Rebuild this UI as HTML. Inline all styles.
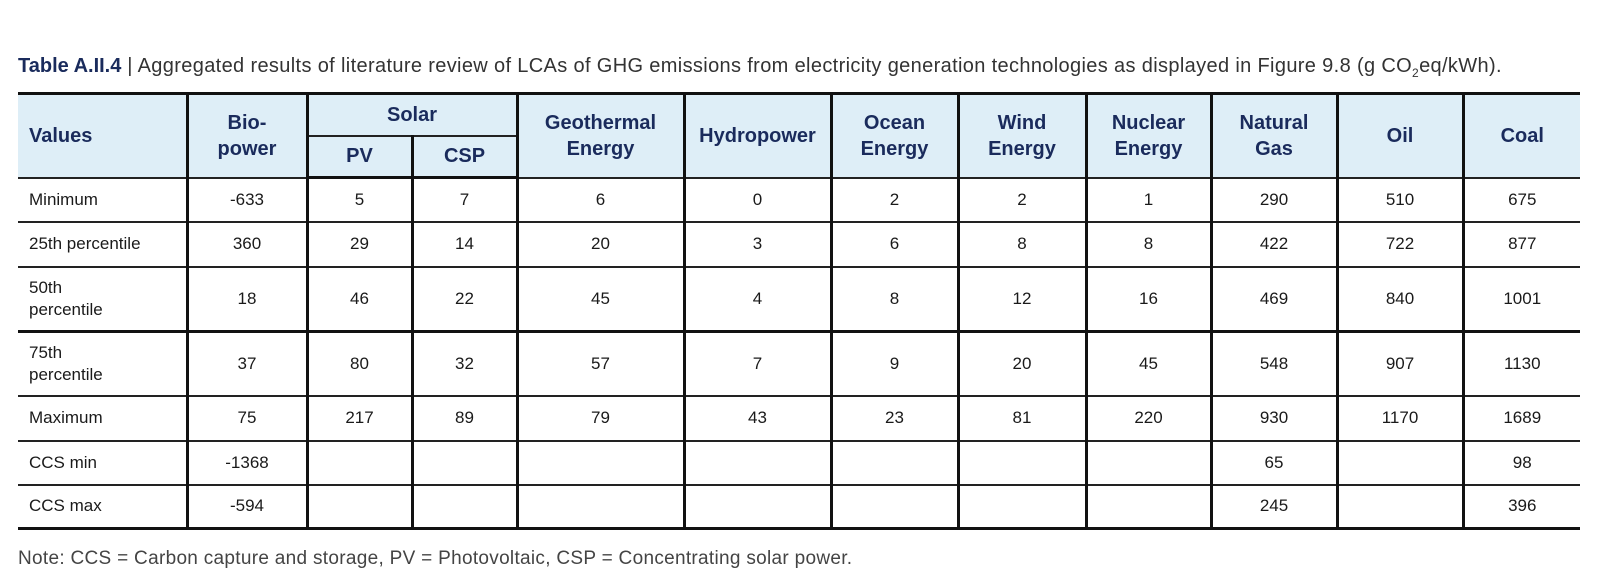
<!DOCTYPE html>
<html><head><meta charset="utf-8"><style>
html,body{margin:0;padding:0;background:#fff;width:1600px;height:582px;overflow:hidden;position:relative;font-family:"Liberation Sans",sans-serif;}
.title{position:absolute;left:18px;top:55px;font-size:20px;color:#333;white-space:nowrap;letter-spacing:0.35px}
.title b{color:#1a2b5c;letter-spacing:0}
table{position:absolute;left:18px;top:92px;border-collapse:collapse;table-layout:fixed;width:1562px;font-size:17px;color:#1a1a1a}
td,th{border-left:3px solid #111;border-right:3px solid #111;border-top:2px solid #222;border-bottom:2px solid #222;text-align:center;padding:0;line-height:22px}
th{background:#deeef7;color:#1a2b5c;font-weight:bold;font-size:20px;line-height:26px}
tr.h1 th{border-top:3px solid #111}
tr.h2 th{border-bottom:3px solid #111}
td.l,th.l{text-align:left;padding-left:11px}
table tr:first-child th:first-child,table td:first-child{border-left:none}
table tr:first-child th:last-child,table td:last-child{border-right:none}
tr.last td{border-bottom:3px solid #111}
tr.thick td{border-top:3px solid #111}
.note{position:absolute;left:18px;top:548px;font-size:19px;color:#444;letter-spacing:0.3px}
</style></head><body>
<div class="title"><b>Table A.II.4</b> | Aggregated results of literature review of LCAs of GHG emissions from electricity generation technologies as displayed in Figure 9.8 (g CO<sub style="font-size:12px">2</sub>eq/kWh).</div>
<table>
<colgroup><col style="width:169px"><col style="width:120px"><col style="width:105px"><col style="width:105px"><col style="width:167px"><col style="width:147px"><col style="width:127px"><col style="width:128px"><col style="width:125px"><col style="width:126px"><col style="width:126px"><col style="width:117px"></colgroup>
<tr class="h1" style="height:42px"><th class="l" rowspan="2">Values</th><th rowspan="2">Bio-<br>power</th><th colspan="2" style="border-bottom:1.5px solid #333">Solar</th><th rowspan="2">Geothermal<br>Energy</th><th rowspan="2">Hydropower</th><th rowspan="2">Ocean<br>Energy</th><th rowspan="2">Wind<br>Energy</th><th rowspan="2">Nuclear<br>Energy</th><th rowspan="2">Natural<br>Gas</th><th rowspan="2">Oil</th><th rowspan="2">Coal</th></tr>
<tr class="h2" style="height:42px"><th>PV</th><th>CSP</th></tr>
<tr style="height:44px"><td class="l">Minimum</td><td>-633</td><td>5</td><td>7</td><td>6</td><td>0</td><td>2</td><td>2</td><td>1</td><td>290</td><td>510</td><td>675</td></tr>
<tr style="height:45px"><td class="l">25th percentile</td><td>360</td><td>29</td><td>14</td><td>20</td><td>3</td><td>6</td><td>8</td><td>8</td><td>422</td><td>722</td><td>877</td></tr>
<tr style="height:65px"><td class="l">50th<br>percentile</td><td>18</td><td>46</td><td>22</td><td>45</td><td>4</td><td>8</td><td>12</td><td>16</td><td>469</td><td>840</td><td>1001</td></tr>
<tr class="thick" style="height:64px"><td class="l">75th<br>percentile</td><td>37</td><td>80</td><td>32</td><td>57</td><td>7</td><td>9</td><td>20</td><td>45</td><td>548</td><td>907</td><td>1130</td></tr>
<tr style="height:45px"><td class="l">Maximum</td><td>75</td><td>217</td><td>89</td><td>79</td><td>43</td><td>23</td><td>81</td><td>220</td><td>930</td><td>1170</td><td>1689</td></tr>
<tr style="height:44px"><td class="l">CCS min</td><td>-1368</td><td></td><td></td><td></td><td></td><td></td><td></td><td></td><td>65</td><td></td><td>98</td></tr>
<tr class="last" style="height:44px"><td class="l">CCS max</td><td>-594</td><td></td><td></td><td></td><td></td><td></td><td></td><td></td><td>245</td><td></td><td>396</td></tr>
</table>
<div class="note">Note: CCS = Carbon capture and storage, PV = Photovoltaic, CSP = Concentrating solar power.</div>
</body></html>
